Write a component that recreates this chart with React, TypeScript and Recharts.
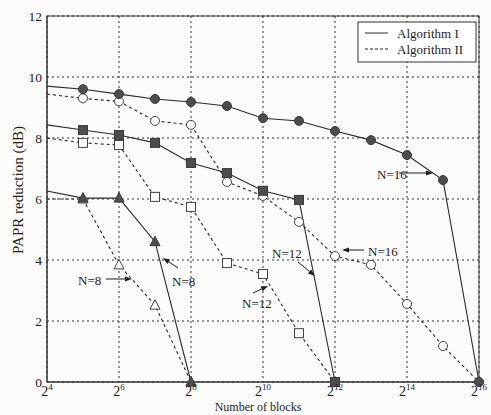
import { LineChart, Line, XAxis, YAxis, CartesianGrid, Customized } from 'recharts'

// log2(number of blocks)
const EXP_16 = [4, 5, 6, 7, 8, 9, 10, 11, 12, 13, 14, 15, 16]
const EXP_12 = [4, 5, 6, 7, 8, 9, 10, 11, 12]
const EXP_8 = [4, 5, 6, 7, 8]

const ALG1_N16 = [9.7, 9.6, 9.44, 9.28, 9.18, 9.05, 8.65, 8.56, 8.23, 7.93, 7.44, 6.62, 0]
const ALG2_N16 = [9.44, 9.3, 9.2, 8.56, 8.43, 6.56, 6.1, 5.25, 4.13, 3.84, 2.56, 1.18, 0]
const ALG1_N12 = [8.43, 8.26, 8.1, 7.84, 7.18, 6.85, 6.27, 5.97, 0]
const ALG2_N12 = [8.0, 7.84, 7.77, 6.07, 5.74, 3.9, 3.54, 1.6, 0]
const ALG1_N8 = [6.26, 6.03, 6.03, 4.6, 0]
const ALG2_N8 = [6.0, 6.0, 3.84, 2.52, 0]

const X_TICKS = [4, 6, 8, 10, 12, 14, 16]
const Y_TICKS = [0, 2, 4, 6, 8, 10, 12]

const FONT = '"Liberation Serif", "DejaVu Serif", serif'
const INK = '#2a2a2a'
const TEXT = '#1e1e1e'

const toRows = (xs: number[], ys: number[]) => xs.map((x, i) => ({ x, y: ys[i] }))

type Shape = 'circle' | 'square' | 'triangle'

const makeDot = (shape: Shape, filled: boolean) => (props: any) => {
 const { cx, cy, index } = props
 if (index === 0 || cx == null || cy == null) return <g key={`e${index}`} />
 const fill = filled ? '#4d4d4d' : '#fff'
 const stroke = filled ? '#3a3a3a' : '#444'
 if (shape === 'circle') {
  return <circle key={`c${index}`} cx={cx} cy={cy} r={4.5} fill={fill} stroke={stroke} strokeWidth={1} />
 }
 if (shape === 'square') {
  return <rect key={`s${index}`} x={cx - 4.5} y={cy - 4.5} width={9} height={9} fill={fill} stroke={stroke} strokeWidth={1} />
 }
 return (
  <polygon
   key={`t${index}`}
   points={`${cx},${cy - 5.5} ${cx + 5},${cy + 4} ${cx - 5},${cy + 4}`}
   fill={fill}
   stroke={stroke}
   strokeWidth={1}
  />
 )
}

const XTick = ({ x, y, payload }: any) => (
 <text x={x} y={y + 12} textAnchor="middle" fontFamily={FONT} fontSize={14} fill={TEXT}>
  2<tspan dy={-6} fontSize={9}>{payload.value}</tspan>
 </text>
)

const Arrow = ({ x1, y1, x2, y2 }: { x1: number; y1: number; x2: number; y2: number }) => {
 const a = Math.atan2(y2 - y1, x2 - x1)
 const l = 7
 const w = 2.6
 const bx = x2 - l * Math.cos(a)
 const by = y2 - l * Math.sin(a)
 const px = -Math.sin(a) * w
 const py = Math.cos(a) * w
 return (
  <g>
   <line x1={x1} y1={y1} x2={bx} y2={by} stroke={TEXT} strokeWidth={1} />
   <polygon points={`${x2},${y2} ${bx + px},${by + py} ${bx - px},${by - py}`} fill={TEXT} />
  </g>
 )
}

const Note = ({ x, y, text }: { x: number; y: number; text: string }) => (
 <text x={x} y={y} fontFamily={FONT} fontSize={13} fill={TEXT} dominantBaseline="central">
  {text}
 </text>
)

const Overlay = () => (
 <g>
  <rect x={47} y={16} width={432} height={366} fill="none" stroke="#333" strokeWidth={1} />

  {/* legend */}
  <rect x={358} y={22} width={118} height={40} fill="#fff" stroke="#333" strokeWidth={1} />
  <line x1={365} y1={33} x2={388} y2={33} stroke={INK} strokeWidth={1} />
  <line x1={365} y1={49} x2={388} y2={49} stroke={INK} strokeWidth={1} strokeDasharray="3 2" />
  <text x={397} y={33} fontFamily={FONT} fontSize={13} fill={TEXT} dominantBaseline="central">Algorithm I</text>
  <text x={397} y={49} fontFamily={FONT} fontSize={13} fill={TEXT} dominantBaseline="central">Algorithm II</text>

  {/* annotations */}
  <Note x={377} y={174} text="N=16" />
  <Arrow x1={399} y1={173} x2={433} y2={173} />
  <Note x={368} y={251} text="N=16" />
  <Arrow x1={364} y1={250} x2={342} y2={250} />
  <Note x={272} y={253} text="N=12" />
  <Arrow x1={298} y1={262} x2={315} y2={276} />
  <Note x={242} y={303} text="N=12" />
  <Arrow x1={253} y1={293} x2={268} y2={286} />
  <Note x={78} y={280} text="N=8" />
  <Arrow x1={106} y1={279} x2={132} y2={279} />
  <Note x={172} y={281} text="N=8" />
  <Arrow x1={178} y1={268} x2={163} y2={258} />

  {/* axis titles */}
  <text x={258} y={407} textAnchor="middle" fontFamily={FONT} fontSize={12} fill={TEXT} dominantBaseline="central">
   Number of blocks
  </text>
  <text
   x={18}
   y={190}
   textAnchor="middle"
   fontFamily={FONT}
   fontSize={15}
   fill={TEXT}
   dominantBaseline="central"
   transform="rotate(-90 18 190)"
  >
   PAPR reduction (dB)
  </text>
 </g>
)

const SERIES = [
 { id: 'a1n16', rows: toRows(EXP_16, ALG1_N16), shape: 'circle' as Shape, filled: true },
 { id: 'a2n16', rows: toRows(EXP_16, ALG2_N16), shape: 'circle' as Shape, filled: false },
 { id: 'a1n12', rows: toRows(EXP_12, ALG1_N12), shape: 'square' as Shape, filled: true },
 { id: 'a2n12', rows: toRows(EXP_12, ALG2_N12), shape: 'square' as Shape, filled: false },
 { id: 'a1n8', rows: toRows(EXP_8, ALG1_N8), shape: 'triangle' as Shape, filled: true },
 { id: 'a2n8', rows: toRows(EXP_8, ALG2_N8), shape: 'triangle' as Shape, filled: false },
]

// dashed series first so the filled markers sit on top
const ORDER = ['a2n16', 'a2n12', 'a2n8', 'a1n16', 'a1n12', 'a1n8']

export default function App() {
 return (
  <div style={{ position: 'absolute', left: 0, top: 0, width: 491, height: 415, background: '#fbfbfa' }}>
   <LineChart width={491} height={415} margin={{ top: 16, right: 12, left: 17, bottom: 8 }}>
    <CartesianGrid stroke="#333" strokeDasharray="2 3" strokeWidth={1} />
    <XAxis
     dataKey="x"
     type="number"
     domain={[4, 16]}
     ticks={X_TICKS}
     tick={<XTick />}
     tickLine={false}
     tickSize={0}
     axisLine={{ stroke: '#333' }}
     height={25}
     allowDuplicatedCategory={false}
    />
    <YAxis
     type="number"
     domain={[0, 12]}
     ticks={Y_TICKS}
     tickLine={false}
     tickSize={0}
     tickMargin={5}
     axisLine={{ stroke: '#333' }}
     width={30}
     tick={{ fontFamily: FONT, fontSize: 13.5, fill: TEXT }}
    />
    {ORDER.map(id => {
     const s = SERIES.find(v => v.id === id)!
     return (
      <Line
       key={s.id}
       data={s.rows}
       dataKey="y"
       type="linear"
       stroke={INK}
       strokeWidth={1.1}
       strokeDasharray={s.filled ? undefined : '3 3'}
       dot={makeDot(s.shape, s.filled)}
       activeDot={false}
       isAnimationActive={false}
      />
     )
    })}
    <Customized component={<Overlay />} />
   </LineChart>
  </div>
 )
}
